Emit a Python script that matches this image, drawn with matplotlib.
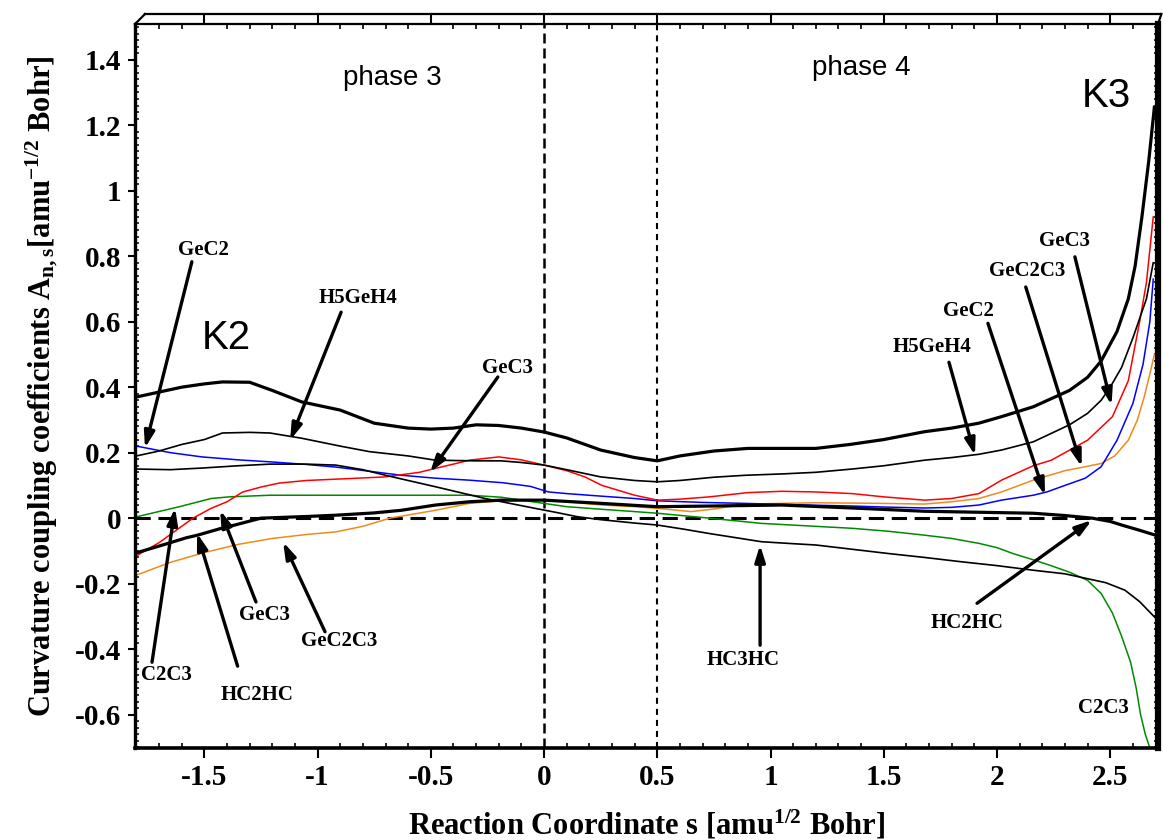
import matplotlib
matplotlib.use('Agg')
import matplotlib.pyplot as plt
from matplotlib.ticker import MultipleLocator, FuncFormatter

# fonts: bold Times-like serif for axes, Arial-like sans for phase / K labels
plt.rcParams['font.family'] = 'Liberation Serif'
plt.rcParams['font.weight'] = 'bold'
plt.rcParams['mathtext.fontset'] = 'custom'
plt.rcParams['mathtext.rm'] = 'Liberation Serif:bold'
plt.rcParams['mathtext.it'] = 'Liberation Serif:bold'
plt.rcParams['mathtext.bf'] = 'Liberation Serif:bold'
plt.rcParams['axes.unicode_minus'] = False

# ---- data (reaction coordinate s, coefficient A) ----
s_total = [-1.80, -1.70, -1.60, -1.50, -1.42, -1.30, -1.20, -1.07, -0.90, -0.75, -0.60, -0.50,
           -0.40, -0.30, -0.20, -0.10, 0.00, 0.10, 0.25, 0.40, 0.50, 0.60, 0.75, 0.90, 1.05,
           1.20, 1.35, 1.50, 1.68, 1.80, 1.92, 2.02, 2.16, 2.32, 2.40, 2.46, 2.53, 2.58, 2.61,
           2.64, 2.67, 2.695]
a_total = [0.37, 0.385, 0.40, 0.41, 0.416, 0.415, 0.39, 0.355, 0.33, 0.29, 0.275, 0.272,
           0.275, 0.285, 0.283, 0.275, 0.263, 0.245, 0.208, 0.185, 0.175, 0.19, 0.205, 0.213,
           0.213, 0.213, 0.225, 0.24, 0.264, 0.275, 0.29, 0.31, 0.34, 0.39, 0.43, 0.48, 0.57,
           0.67, 0.77, 0.92, 1.09, 1.255]

s_h5geh4 = [-1.80, -1.70, -1.60, -1.50, -1.42, -1.30, -1.21, -1.07, -0.90, -0.77, -0.60, -0.48,
            -0.30, -0.19, -0.10, 0.00, 0.10, 0.25, 0.40, 0.50, 0.60, 0.75, 0.89, 1.05, 1.20,
            1.36, 1.50, 1.68, 1.80, 1.92, 2.02, 2.16, 2.24, 2.32, 2.40, 2.46, 2.50, 2.55, 2.60,
            2.66, 2.69]
a_h5geh4 = [0.19, 0.205, 0.225, 0.24, 0.26, 0.262, 0.26, 0.244, 0.22, 0.203, 0.19, 0.177,
            0.175, 0.175, 0.17, 0.162, 0.148, 0.126, 0.115, 0.111, 0.115, 0.125, 0.131, 0.135,
            0.14, 0.15, 0.16, 0.177, 0.185, 0.195, 0.208, 0.233, 0.259, 0.285, 0.32, 0.36,
            0.40, 0.46, 0.55, 0.67, 0.78]

s_hc3hc = [-1.80, -1.65, -1.51, -1.35, -1.21, -1.05, -0.92, -0.80, -0.70, -0.60, -0.48, -0.37,
           -0.26, -0.15, -0.04, 0.05, 0.15, 0.256, 0.40, 0.50, 0.62, 0.73, 0.85, 0.96, 1.10,
           1.20, 1.36, 1.52, 1.68, 1.84, 2.00, 2.16, 2.30, 2.40, 2.48, 2.565, 2.63, 2.70]
a_hc3hc = [0.15, 0.148, 0.153, 0.16, 0.165, 0.165, 0.162, 0.148, 0.131, 0.115, 0.096, 0.078,
           0.06, 0.045, 0.03, 0.018, 0.004, -0.005, -0.015, -0.021, -0.034, -0.047, -0.06,
           -0.072, -0.078, -0.082, -0.095, -0.108, -0.12, -0.133, -0.145, -0.159, -0.17,
           -0.185, -0.197, -0.22, -0.255, -0.305]

s_gec2 = [-1.80, -1.65, -1.51, -1.35, -1.21, -1.05, -0.92, -0.78, -0.63, -0.48, -0.33, -0.18,
          -0.06, 0.02, 0.10, 0.256, 0.40, 0.50, 0.70, 0.89, 1.10, 1.36, 1.50, 1.68, 1.80,
          1.92, 2.02, 2.16, 2.22, 2.30, 2.39, 2.46, 2.53, 2.60, 2.645, 2.675, 2.69]
a_gec2 = [0.22, 0.20, 0.187, 0.178, 0.172, 0.164, 0.156, 0.144, 0.131, 0.122, 0.116, 0.108,
          0.097, 0.08, 0.075, 0.067, 0.06, 0.053, 0.048, 0.045, 0.041, 0.037, 0.034, 0.031,
          0.033, 0.04, 0.055, 0.07, 0.08, 0.10, 0.122, 0.157, 0.238, 0.35, 0.47, 0.60, 0.73]

s_gec3 = [-1.80, -1.70, -1.62, -1.55, -1.47, -1.40, -1.33, -1.25, -1.17, -1.05, -0.92, -0.70,
          -0.55, -0.48, -0.40, -0.33, -0.20, -0.10, 0.00, 0.10, 0.18, 0.256, 0.40, 0.50, 0.60,
          0.73, 0.90, 1.05, 1.20, 1.36, 1.50, 1.68, 1.80, 1.92, 2.02, 2.16, 2.24, 2.40, 2.51,
          2.58, 2.63, 2.66, 2.69]
a_gec3 = [-0.115, -0.075, -0.035, 0.0, 0.03, 0.05, 0.08, 0.095, 0.107, 0.115, 0.119, 0.126,
          0.14, 0.152, 0.165, 0.177, 0.187, 0.178, 0.162, 0.145, 0.126, 0.10, 0.07, 0.055,
          0.058, 0.065, 0.078, 0.082, 0.08, 0.075, 0.065, 0.055, 0.06, 0.075, 0.116, 0.16,
          0.177, 0.238, 0.31, 0.42, 0.60, 0.72, 0.92]

s_c2c3 = [-1.80, -1.61, -1.47, -1.39, -1.21, -0.90, -0.60, -0.33, -0.19, -0.10, 0.00, 0.10,
          0.256, 0.40, 0.50, 0.73, 0.96, 1.20, 1.36, 1.52, 1.68, 1.80, 1.92, 2.00, 2.07, 2.15,
          2.23, 2.32, 2.40, 2.46, 2.51, 2.55, 2.59, 2.615, 2.634, 2.655, 2.674]
a_c2c3 = [0.004, 0.035, 0.06, 0.065, 0.07, 0.07, 0.07, 0.07, 0.064, 0.055, 0.045, 0.035,
          0.027, 0.02, 0.015, 0.0, -0.016, -0.025, -0.031, -0.04, -0.052, -0.062, -0.077,
          -0.09, -0.108, -0.125, -0.143, -0.165, -0.19, -0.23, -0.29, -0.36, -0.44, -0.52,
          -0.60, -0.66, -0.70]

s_gec2c3 = [-1.80, -1.65, -1.50, -1.35, -1.20, -1.05, -0.92, -0.80, -0.68, -0.58, -0.48, -0.33,
            -0.19, 0.00, 0.10, 0.256, 0.40, 0.50, 0.65, 0.75, 0.89, 1.20, 1.50, 1.68, 1.80,
            1.92, 2.02, 2.16, 2.30, 2.39, 2.46, 2.52, 2.58, 2.62, 2.65, 2.675, 2.695]
a_gec2c3 = [-0.174, -0.135, -0.105, -0.08, -0.062, -0.05, -0.042, -0.025, 0.0, 0.012, 0.024,
            0.045, 0.053, 0.055, 0.05, 0.04, 0.035, 0.03, 0.02, 0.028, 0.043, 0.047, 0.045,
            0.043, 0.05, 0.06, 0.08, 0.116, 0.145, 0.157, 0.167, 0.19, 0.238, 0.30, 0.37,
            0.44, 0.50]

s_hc2hc = [-1.80, -1.66, -1.58, -1.53, -1.43, -1.36, -1.25, -1.05, -0.92, -0.75, -0.63, -0.48,
           -0.33, -0.19, 0.00, 0.256, 0.50, 0.73, 1.05, 1.36, 1.68, 1.92, 2.16, 2.30, 2.42,
           2.50, 2.555, 2.62, 2.70]
a_hc2hc = [-0.106, -0.077, -0.06, -0.052, -0.032, -0.02, 0.0, 0.005, 0.009, 0.016, 0.024,
           0.04, 0.05, 0.055, 0.055, 0.045, 0.035, 0.037, 0.04, 0.031, 0.021, 0.018, 0.015,
           0.008, 0.0, -0.01, -0.022, -0.035, -0.052]

# label, text position, arrow tail, arrow tip (None = no arrow)
labels = [
    ('GeC2',   (-1.506, 0.818), (-1.555, 0.783), (-1.762, 0.214)),
    ('H5GeH4', (-0.821, 0.672), (-0.896, 0.629), (-1.121, 0.238)),
    ('GeC3',   (-0.163, 0.458), (-0.204, 0.431), (-0.503, 0.140)),
    ('C2C3',   (-1.669, -0.479), (-1.731, -0.440), (-1.629, 0.031)),
    ('HC2HC',  (-1.267, -0.540), (-1.353, -0.452), (-1.532, -0.046)),
    ('GeC3',   (-1.236, -0.296), (-1.272, -0.256), (-1.430, 0.024)),
    ('GeC2C3', (-0.905, -0.376), (-0.967, -0.347), (-1.152, -0.073)),
    ('HC3HC',  (0.879, -0.434), (0.954, -0.388), (0.954, -0.082)),
    ('HC2HC',  (1.868, -0.321), (1.912, -0.260), (2.419, -0.006)),
    ('C2C3',   (2.472, -0.580), None, None),
    ('GeC3',   (2.296, 0.846), (2.344, 0.798), (2.506, 0.345)),
    ('GeC2C3', (2.132, 0.754), (2.127, 0.706), (2.374, 0.157)),
    ('GeC2',   (1.872, 0.632), (1.960, 0.595), (2.212, 0.070)),
    ('H5GeH4', (1.713, 0.522), (1.788, 0.476), (1.903, 0.192)),
]

xmin, xmax = -1.806, 2.711
ymin, ymax = -0.702, 1.509

fig = plt.figure(figsize=(11.63, 8.40), dpi=100)
ax = fig.add_axes([0.1161, 0.1095, 0.8796, 0.8619])

# reference lines
ax.axhline(0, color='k', lw=2.2, dashes=(5, 2.5), zorder=1)
ax.axvline(0, color='k', lw=1.8, dashes=(4, 2), zorder=1)
ax.axvline(0.5, color='k', lw=1.5, dashes=(2.9, 2.4), zorder=1)

# curves
ax.plot(s_c2c3, a_c2c3, color='#008a00', lw=1.1, zorder=2)
ax.plot(s_gec2c3, a_gec2c3, color='#f08a1c', lw=1.1, zorder=2)
ax.plot(s_gec2, a_gec2, color='#0000ff', lw=1.1, zorder=2)
ax.plot(s_gec3, a_gec3, color='#ff0000', lw=1.1, zorder=2)
ax.plot(s_hc3hc, a_hc3hc, color='k', lw=1.2, zorder=3)
ax.plot(s_h5geh4, a_h5geh4, color='k', lw=1.2, zorder=3)
ax.plot(s_hc2hc, a_hc2hc, color='k', lw=2.3, zorder=4)
ax.plot(s_total, a_total, color='k', lw=2.3, zorder=4)

# annotations
for name, txy, tail, tip in labels:
    ax.text(txy[0], txy[1], name, fontsize=15, fontweight='bold', ha='center', va='center')
    if tip is not None:
        ax.annotate('', xy=tip, xytext=tail,
                    arrowprops=dict(arrowstyle='-|>,head_length=0.7,head_width=0.22',
                                    lw=2.4, color='k', shrinkA=0, shrinkB=0,
                                    mutation_scale=14), zorder=5)

ax.text(-0.671, 1.343, 'phase 3', family='Liberation Sans', fontweight='normal',
        fontsize=20, ha='center', va='center')
ax.text(1.40, 1.374, 'phase 4', family='Liberation Sans', fontweight='normal',
        fontsize=20, ha='center', va='center')
ax.text(-1.404, 0.55, 'K2', family='Liberation Sans', fontweight='normal',
        fontsize=29, ha='center', va='center')
ax.text(2.481, 1.29, 'K3', family='Liberation Sans', fontweight='normal',
        fontsize=29, ha='center', va='center')

ax.set_xlim(xmin, xmax)
ax.set_ylim(ymin, ymax)

fmt = FuncFormatter(lambda v, p: '%g' % (round(v, 2) + 0.0))
ax.xaxis.set_major_locator(MultipleLocator(0.5))
ax.xaxis.set_minor_locator(MultipleLocator(0.1))
ax.yaxis.set_major_locator(MultipleLocator(0.2))
ax.yaxis.set_minor_locator(MultipleLocator(0.02))
ax.xaxis.set_major_formatter(fmt)
ax.yaxis.set_major_formatter(fmt)

ax.tick_params(axis='x', which='major', direction='out', length=7.2, width=1.5,
               top=True, labelsize=21, pad=4)
ax.tick_params(axis='x', which='minor', direction='in', length=3.6, width=1.2, top=True)
ax.tick_params(axis='y', which='major', direction='out', length=5, width=1.5,
               right=False, labelsize=21, pad=5)
ax.tick_params(axis='y', which='minor', direction='in', length=3, width=1.1, right=True)
for lab in ax.get_xticklabels() + ax.get_yticklabels():
    lab.set_fontweight('bold')

ax.spines['left'].set_linewidth(2.4)
ax.spines['bottom'].set_linewidth(2.6)
ax.spines['top'].set_linewidth(1.6)
ax.spines['right'].set_linewidth(4.5)

# thin slab drawn above the top frame
tr = ax.get_xaxis_transform()
h = 10 / 724
dx = 10 / 226.5
ax.plot([xmin + dx, xmax + 0.015], [1 + h, 1 + h], transform=tr, color='k', lw=1.6, clip_on=False)
ax.plot([xmin, xmin + dx], [1, 1 + h], transform=tr, color='k', lw=1.6, clip_on=False)
ax.plot([xmax, xmax + 0.015], [1, 1 + h], transform=tr, color='k', lw=1.6, clip_on=False)

ax.set_xlabel('Reaction Coordinate s [amu$^{1/2}$ Bohr]', fontsize=22, fontweight='bold',
              labelpad=13)
ax.set_ylabel('Curvature coupling coefficients A$_{n,s}$[amu$^{-1/2}$ Bohr]', fontsize=22,
              fontweight='bold', labelpad=10)

fig.savefig('out.png', dpi=100)
